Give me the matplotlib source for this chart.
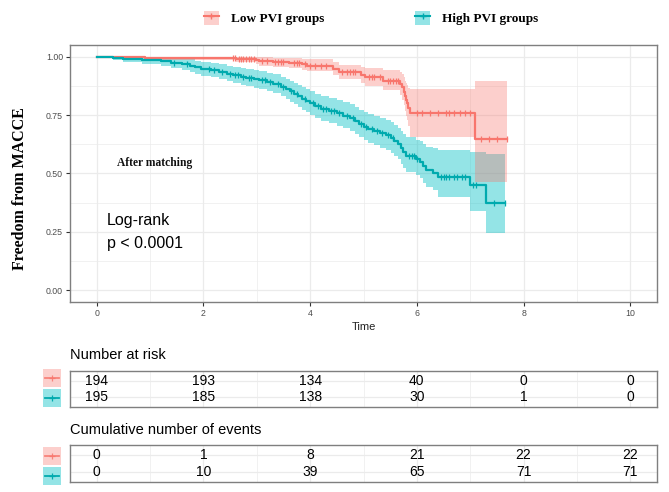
import numpy as np
import matplotlib
matplotlib.use("Agg")
import matplotlib.pyplot as plt
from matplotlib.patches import Rectangle, Patch
from matplotlib.lines import Line2D
from matplotlib.ticker import MultipleLocator, FixedLocator, FormatStrFormatter
from matplotlib.font_manager import FontProperties

# ---------------- data ----------------
groups = ["Low PVI groups", "High PVI groups"]
line_colors = ["#F8766D", "#00AAAE"]
band_colors = ["#F8766D", "#00BFC4"]

low_t = [0, 0.9, 2.62, 2.99, 3.05, 3.3, 3.6, 3.85, 3.95, 4.43, 4.55, 4.95, 5.03,
         5.37, 5.69, 5.73, 5.75, 5.77, 5.79, 5.81, 5.84, 5.87, 7.09]
low_s = [1.0, 0.996, 0.992, 0.985, 0.980, 0.976, 0.972, 0.967, 0.962, 0.948, 0.933,
         0.922, 0.912, 0.898, 0.885, 0.870, 0.850, 0.830, 0.815, 0.800, 0.780, 0.757, 0.647]
low_lo = [1.0, 0.985, 0.976, 0.969, 0.962, 0.956, 0.950, 0.944, 0.938, 0.921, 0.903,
          0.889, 0.876, 0.856, 0.838, 0.815, 0.792, 0.768, 0.748, 0.730, 0.703, 0.657, 0.464]
low_hi = [1.0, 1.0, 1.0, 1.0, 0.998, 0.996, 0.994, 0.991, 0.988, 0.976, 0.965,
          0.957, 0.950, 0.942, 0.935, 0.925, 0.912, 0.898, 0.889, 0.878, 0.865, 0.862, 0.898]
low_end = 7.69
low_cens = [2.55, 2.6, 2.66, 2.7, 2.75, 2.8, 2.85, 2.9, 2.95, 3.1, 3.2, 3.35, 3.4, 3.45,
            3.5, 3.7, 3.75, 3.8, 3.9, 4.0, 4.1, 4.2, 4.3, 4.6, 4.7, 4.75, 4.8, 4.85,
            5.1, 5.15, 5.2, 5.3, 5.45, 5.5, 5.55, 5.6, 5.65, 6.0, 6.1, 6.25, 6.4, 6.55,
            6.6, 6.7, 6.8, 6.9, 7.0, 7.2, 7.35, 7.5, 7.69]

high_t = [0, 0.30, 0.50, 0.85, 1.20, 1.40, 1.60, 1.75, 1.85, 1.95, 2.15, 2.30, 2.45,
          2.55, 2.70, 2.80, 2.95, 3.05, 3.20, 3.30, 3.45, 3.55, 3.62, 3.70, 3.78, 3.85,
          3.93, 4.00, 4.10, 4.20, 4.35, 4.50, 4.62, 4.75, 4.85, 4.92, 5.00, 5.08, 5.20,
          5.30, 5.42, 5.52, 5.58, 5.65, 5.70, 5.74, 5.80, 5.98, 6.06, 6.12, 6.18, 6.30,
          6.40, 7.00, 7.30]
high_s = [1.0, 0.995, 0.990, 0.985, 0.980, 0.975, 0.968, 0.962, 0.955, 0.948, 0.943,
          0.936, 0.928, 0.922, 0.915, 0.910, 0.905, 0.900, 0.892, 0.884, 0.872, 0.862,
          0.852, 0.842, 0.830, 0.820, 0.810, 0.800, 0.787, 0.777, 0.767, 0.758, 0.748,
          0.738, 0.726, 0.712, 0.700, 0.690, 0.680, 0.672, 0.663, 0.652, 0.640, 0.625,
          0.608, 0.592, 0.575, 0.562, 0.550, 0.532, 0.515, 0.502, 0.486, 0.451, 0.374]
high_lo = [1.0, 0.985, 0.976, 0.968, 0.960, 0.953, 0.944, 0.936, 0.928, 0.919, 0.913,
           0.905, 0.895, 0.888, 0.880, 0.874, 0.868, 0.862, 0.853, 0.844, 0.830, 0.819,
           0.808, 0.797, 0.784, 0.773, 0.762, 0.751, 0.737, 0.726, 0.715, 0.705, 0.694,
           0.683, 0.670, 0.655, 0.642, 0.631, 0.620, 0.611, 0.601, 0.589, 0.576, 0.560,
           0.542, 0.525, 0.507, 0.493, 0.480, 0.460, 0.443, 0.428, 0.400, 0.340, 0.247]
high_hi = [1.0, 1.0, 1.0, 1.0, 0.999, 0.997, 0.993, 0.989, 0.983, 0.978, 0.974, 0.968,
           0.962, 0.957, 0.951, 0.947, 0.943, 0.939, 0.932, 0.925, 0.915, 0.906, 0.898,
           0.889, 0.878, 0.869, 0.860, 0.851, 0.840, 0.831, 0.822, 0.814, 0.805, 0.796,
           0.786, 0.773, 0.762, 0.753, 0.744, 0.737, 0.729, 0.720, 0.709, 0.695, 0.682,
           0.668, 0.655, 0.645, 0.638, 0.625, 0.615, 0.608, 0.600, 0.590, 0.585]
high_end = 7.66
high_cens = [1.45, 1.7, 2.1, 2.2, 2.35, 2.5, 2.6, 2.65, 2.75, 2.85, 2.9, 3.1, 3.15,
             3.25, 3.4, 3.5, 3.65, 3.75, 3.9, 4.05, 4.15, 4.25, 4.3, 4.4, 4.45, 4.55,
             4.7, 4.8, 4.95, 5.05, 5.15, 5.25, 5.35, 5.45, 5.55, 5.85, 5.9, 5.95, 6.0,
             6.45, 6.5, 6.55, 6.6, 6.7, 6.75, 6.85, 6.9, 7.05, 7.1, 7.45, 7.66]

table_times = [0, 2, 4, 6, 8, 10]
risk_low = [194, 193, 134, 40, 0, 0]
risk_high = [195, 185, 138, 30, 1, 0]
events_low = [0, 1, 8, 21, 22, 22]
events_high = [0, 10, 39, 65, 71, 71]

x_ticks = [0, 2, 4, 6, 8, 10]
y_ticks = [0.0, 0.25, 0.50, 0.75, 1.00]

# ---------------- figure ----------------
W, H = 669, 492
fig = plt.figure(figsize=(W / 100, H / 100), dpi=100)
fig.patch.set_facecolor("white")

def fx(x):
    return x / W

def fy(y):
    return 1 - y / H

SANS = "Liberation Sans"
SERIF = "Liberation Serif"
grid_c = "#EBEBEB"
spine_c = "#7F7F7F"
band_alpha = [0.35, 0.42]

ax = fig.add_axes([fx(70), fy(302), fx(657) - fx(70), fy(45) - fy(302)])
ax.set_xlim(-0.5, 10.5)
ax.set_ylim(-0.05, 1.05)
ax.xaxis.set_major_locator(FixedLocator(x_ticks))
ax.xaxis.set_minor_locator(MultipleLocator(1))
ax.yaxis.set_major_locator(FixedLocator(y_ticks))
ax.yaxis.set_minor_locator(MultipleLocator(0.125))
ax.yaxis.set_major_formatter(FormatStrFormatter("%.2f"))
ax.grid(which="major", color=grid_c, lw=0.9)
ax.grid(which="minor", color=grid_c, lw=0.5)
ax.set_axisbelow(True)
ax.tick_params(which="major", length=3, width=0.8, color="#333333", labelsize=6.3,
               labelcolor="#4D4D4D", pad=2)
ax.tick_params(which="minor", length=0)
for lab in ax.get_xticklabels() + ax.get_yticklabels():
    lab.set_family(SANS)
for sp in ax.spines.values():
    sp.set_color(spine_c)
    sp.set_linewidth(1.0)

curves = [
    (low_t, low_s, low_lo, low_hi, low_end, low_cens),
    (high_t, high_s, high_lo, high_hi, high_end, high_cens),
]
# bands (teal first, then pink on top)
for idx in [1, 0]:
    t, s, lo, hi, end, cens = curves[idx]
    tt = list(t) + [end]
    ax.fill_between(tt, list(lo) + [lo[-1]], list(hi) + [hi[-1]], step="post",
                    color=band_colors[idx], alpha=band_alpha[idx], lw=0, zorder=2)
for idx in [0, 1]:
    t, s, lo, hi, end, cens = curves[idx]
    tt = list(t) + [end]
    ax.step(tt, list(s) + [s[-1]], where="post", color=line_colors[idx], lw=1.6, zorder=3)
    ta = np.array(t)
    sa = np.array(s)
    cy = sa[np.searchsorted(ta, np.array(cens), side="right") - 1]
    ax.plot(cens, cy, ls="none", marker="|", ms=4.5, mew=0.9, color=line_colors[idx], zorder=4)

ax.text(0.38, 0.545, "After matching", family=SERIF, weight="bold", size=8.3,
        ha="left", va="center", color="#111111")
ax.text(0.19, 0.298, "Log-rank", family=SANS, size=11.5, ha="left", va="center")
ax.text(0.19, 0.200, "p < 0.0001", family=SANS, size=11.5, ha="left", va="center")

fig.text(fx(363.5), fy(327), "Time", family=SANS, size=8, ha="center", va="center",
         color="#222222")
fig.text(fx(20), fy(189), "Freedom from MACCE", family=SERIF, weight="bold", size=11.5,
         rotation=90, ha="center", va="center")

# top legend
handles = []
for i in range(2):
    handles.append((Patch(facecolor=band_colors[i], alpha=band_alpha[i], lw=0),
                    Line2D([], [], color=line_colors[i], lw=1.5, marker="+", ms=5, mew=1)))
fig.legend(handles, groups, loc="center", bbox_to_anchor=(fx(371), fy(18)), ncol=2,
           frameon=False, prop=FontProperties(family=SERIF, weight="bold", size=9.5),
           handlelength=1.15, handleheight=1.35, handletextpad=0.9, columnspacing=6.9)

# ---------------- tables ----------------
def make_table(top, bottom, title_y, title, vals_low, vals_high, key_tops):
    axt = fig.add_axes([fx(70), fy(bottom), fx(657) - fx(70), fy(top) - fy(bottom)])
    axt.set_xlim(-0.5, 10.5)
    axt.set_ylim(-0.14, 2.14)
    axt.xaxis.set_major_locator(FixedLocator(x_ticks))
    axt.xaxis.set_minor_locator(MultipleLocator(1))
    axt.yaxis.set_major_locator(FixedLocator([0.5, 1.5]))
    axt.grid(which="major", color=grid_c, lw=0.9)
    axt.xaxis.grid(which="minor", color=grid_c, lw=0.5)
    axt.set_axisbelow(True)
    axt.tick_params(which="both", length=0, labelbottom=False, labelleft=False)
    for sp in axt.spines.values():
        sp.set_color(spine_c)
        sp.set_linewidth(1.0)
    for x, v in zip(table_times, vals_low):
        axt.text(x, 1.5, str(v), family=SANS, size=10, ha="center", va="center")
    for x, v in zip(table_times, vals_high):
        axt.text(x, 0.5, str(v), family=SANS, size=10, ha="center", va="center")
    fig.text(fx(70), fy(title_y), title, family=SANS, size=10.5, ha="left", va="center")
    for i, ktop in enumerate(key_tops):
        fig.add_artist(Rectangle((fx(43), fy(ktop + 18)), fx(61) - fx(43), fy(ktop) - fy(ktop + 18),
                                 transform=fig.transFigure, facecolor=band_colors[i],
                                 alpha=band_alpha[i], lw=0))
        yc = fy(ktop + 9)
        fig.add_artist(Line2D([fx(45), fx(59)], [yc, yc], transform=fig.transFigure,
                              color=line_colors[i], lw=1.3, alpha=0.85 if i == 0 else 1))
        fig.add_artist(Line2D([fx(52)], [yc], transform=fig.transFigure, ls="none",
                              marker="+", ms=4.5, mew=0.9, color=line_colors[i],
                              alpha=0.85 if i == 0 else 1))
    return axt

make_table(371, 407, 355, "Number at risk", risk_low, risk_high, [369, 389])
make_table(445, 482, 430, "Cumulative number of events", events_low, events_high, [447, 467])

fig.savefig("out.png", dpi=100, facecolor="white")
